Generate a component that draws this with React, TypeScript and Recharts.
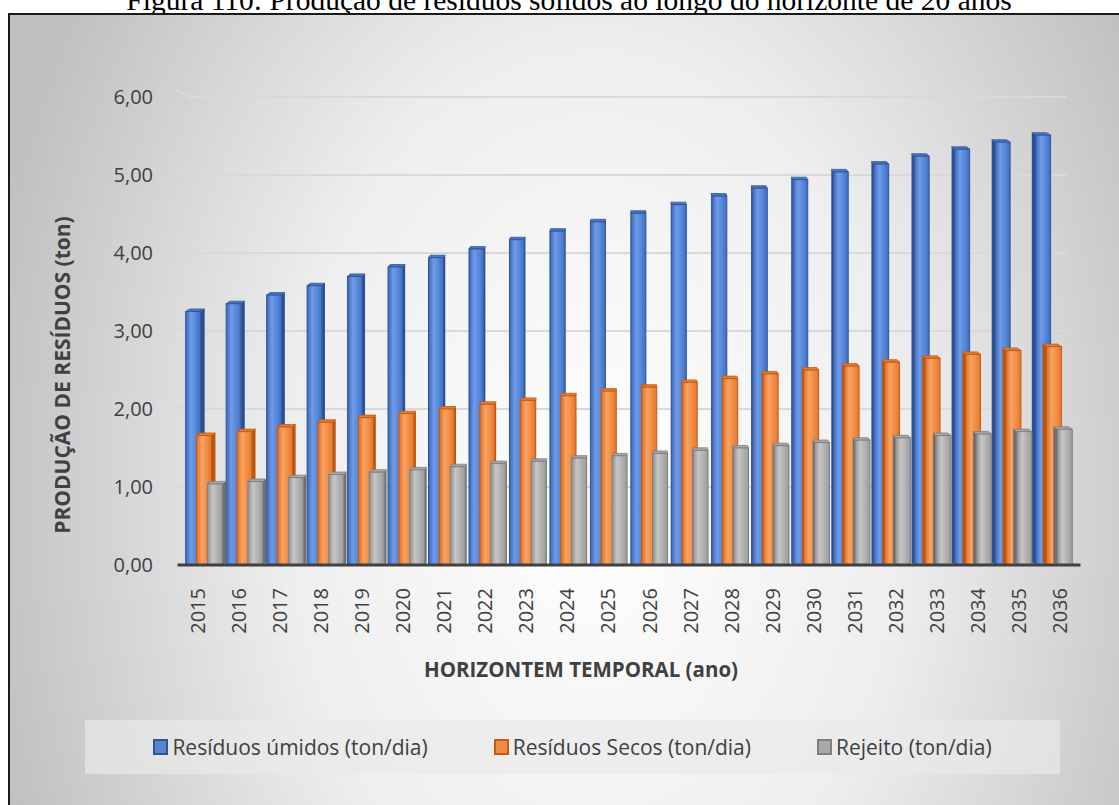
import React from "react";
import {
  BarChart,
  Bar,
  XAxis,
  YAxis,
  CartesianGrid,
  Legend,
} from "recharts";

const years = [
  "2015", "2016", "2017", "2018", "2019", "2020", "2021", "2022", "2023", "2024", "2025",
  "2026", "2027", "2028", "2029", "2030", "2031", "2032", "2033", "2034", "2035", "2036",
];
const residuosUmidos = [
  3.25, 3.35, 3.46, 3.58, 3.7, 3.82, 3.94, 4.05, 4.17, 4.28, 4.4,
  4.51, 4.62, 4.73, 4.83, 4.94, 5.04, 5.14, 5.24, 5.33, 5.42, 5.51,
];
const residuosSecos = [
  1.66, 1.71, 1.77, 1.83, 1.89, 1.94, 2.0, 2.06, 2.11, 2.17, 2.23,
  2.28, 2.34, 2.39, 2.45, 2.5, 2.55, 2.6, 2.65, 2.7, 2.75, 2.8,
];
const rejeito = [
  1.04, 1.07, 1.12, 1.16, 1.19, 1.22, 1.26, 1.3, 1.33, 1.37, 1.4,
  1.43, 1.47, 1.5, 1.53, 1.57, 1.6, 1.63, 1.66, 1.68, 1.71, 1.74,
];
const yTicks = [0, 1, 2, 3, 4, 5, 6];
const seriesOrder = ["umidos", "secos", "rejeito"];

const chartData = years.map((year, i) => ({
  year,
  umidos: residuosUmidos[i],
  secos: residuosSecos[i],
  rejeito: rejeito[i],
}));

const FONT = "'Open Sans', 'Noto Sans', sans-serif";
const TEXT = "#404040";
const CHART_W = 1109;
const CHART_H = 790;
const CENTER_X = 619; // middle of plot, used for the fake perspective

const tones: Record<string, { grad: string; side: string; top: string; stroke: string; swatch: string }> = {
  umidos: { grad: "g-blue", side: "#2c4f8f", top: "#4a78c9", stroke: "#2f5597", swatch: "#5b82cc" },
  secos: { grad: "g-orange", side: "#b85510", top: "#e57d33", stroke: "#c55a11", swatch: "#f08b45" },
  rejeito: { grad: "g-gray", side: "#6f6f6f", top: "#a8a8a8", stroke: "#7f7f7f", swatch: "#a9a9a9" },
};

function Bar3D(props: any) {
  const { x, y, width, height, tone } = props;
  if (!height || height <= 0) return null;
  const t = tones[tone];
  const c = x + width / 2;
  const shift = (CENTER_X - c) * 0.014;
  const d = (CENTER_X - c) * 0.009;
  const u = 2.5;
  const X = x + shift;
  const w = width;
  const sx = d >= 0 ? X + w : X;
  const side = `M${sx},${y} L${sx + d},${y - u} L${sx + d},${y + height - u} L${sx},${y + height} Z`;
  const top = `M${X},${y} L${X + d},${y - u} L${X + w + d},${y - u} L${X + w},${y} Z`;
  return (
    <g>
      <path d={side} fill={t.side} />
      <path d={top} fill={t.top} stroke={t.stroke} strokeWidth={0.8} />
      <rect x={X} y={y} width={w} height={height} fill={`url(#${t.grad})`} stroke={t.stroke} strokeWidth={1} />
    </g>
  );
}

function GridLine(props: any) {
  const { x1, x2, y1, index } = props;
  if (index === 0) return <g key={`gl-${index}`} />;
  const dy = ((550 - y1) / 470) * 7;
  return (
    <path
      key={`gl-${index}`}
      d={`M${x1 - 2.5},${y1 - dy} L${x1 + 12.5},${y1} L${x2 - 14.5},${y1}`}
      fill="none"
      stroke="#d9d9d9"
      strokeWidth={2}
    />
  );
}

function YearTick(props: any) {
  const { x, y, payload } = props;
  return (
    <text
      x={x}
      y={y}
      transform={`rotate(-90, ${x}, ${y})`}
      textAnchor="end"
      dy="0.35em"
      fontSize={20}
      fontFamily={FONT}
      fill={TEXT}
    >
      {payload.value}
    </text>
  );
}

function LegendBox(props: any) {
  const items = [...(props.payload || [])].sort(
    (a: any, b: any) => seriesOrder.indexOf(a.dataKey) - seriesOrder.indexOf(b.dataKey)
  );
  return (
    <div
      style={{
        width: 975,
        height: 54,
        background: "rgba(233,233,233,0.69)",
        display: "flex",
        alignItems: "center",
        justifyContent: "center",
        gap: 66,
        fontFamily: FONT,
        fontSize: 21,
        color: TEXT,
      }}
    >
      {items.map((entry: any) => {
        const t = tones[entry.dataKey];
        return (
          <div key={entry.value} style={{ display: "flex", alignItems: "center", whiteSpace: "nowrap" }}>
            <span
              style={{
                display: "inline-block",
                width: 11,
                height: 12,
                background: t.swatch,
                border: `2px solid ${t.stroke}`,
                marginRight: 4,
              }}
            />
            {entry.value}
          </div>
        );
      })}
    </div>
  );
}

export default function App() {
  return (
    <div
      style={{
        position: "absolute",
        left: 0,
        top: 0,
        width: 1119,
        height: 805,
        overflow: "hidden",
        background: "#fff",
      }}
    >
      <svg width={1119} height={20} style={{ position: "absolute", left: 0, top: 0 }}>
        <text
          x={569}
          y={10}
          textAnchor="middle"
          fontSize={29.5}
          fontFamily="'Liberation Serif', 'Times New Roman', serif"
          fill="#000"
        >
          Figura 110: Produção de resíduos sólidos ao longo do horizonte de 20 anos
        </text>
      </svg>
      <div
        style={{
          position: "absolute",
          left: 8,
          top: 13,
          width: 1125,
          height: 800,
          borderLeft: "2px solid #1a1a1a",
          borderTop: "2px solid #1a1a1a",
          background:
            "radial-gradient(ellipse 620px 900px at 52% 60%, #ffffff 0%, #eeeeee 50%, #c0c0c0 100%)",
        }}
      >
        <BarChart
          width={CHART_W}
          height={CHART_H}
          data={chartData}
          margin={{ top: 82, right: 38.5, bottom: 180, left: 67.5 }}
          barSize={15}
          barGap={-4}
        >
          <defs>
            <linearGradient id="g-blue" x1="0" y1="0" x2="1" y2="0">
              <stop offset="0" stopColor="#3b66b8" />
              <stop offset="0.35" stopColor="#6f9be8" />
              <stop offset="0.7" stopColor="#5686d9" />
              <stop offset="1" stopColor="#3f6cbf" />
            </linearGradient>
            <linearGradient id="g-orange" x1="0" y1="0" x2="1" y2="0">
              <stop offset="0" stopColor="#dc6c22" />
              <stop offset="0.35" stopColor="#f8a363" />
              <stop offset="0.7" stopColor="#f28c42" />
              <stop offset="1" stopColor="#e2772d" />
            </linearGradient>
            <linearGradient id="g-gray" x1="0" y1="0" x2="1" y2="0">
              <stop offset="0" stopColor="#909090" />
              <stop offset="0.35" stopColor="#c6c6c6" />
              <stop offset="0.7" stopColor="#afafaf" />
              <stop offset="1" stopColor="#9b9b9b" />
            </linearGradient>
          </defs>
          <CartesianGrid vertical={false} horizontal={(p: any) => <GridLine {...p} />} />
          <XAxis
            dataKey="year"
            interval={0}
            height={60}
            tickLine={false}
            axisLine={{ stroke: "#404040", strokeWidth: 3 }}
            tick={<YearTick />}
            tickMargin={17}
            label={{
              value: "HORIZONTEM TEMPORAL (ano)",
              content: ({ viewBox }: any) => (
                <text
                  x={571}
                  y={viewBox.y + 112}
                  textAnchor="middle"
                  fontSize={20.5}
                  fontWeight="bold"
                  fontFamily={FONT}
                  fill={TEXT}
                >
                  HORIZONTEM TEMPORAL (ano)
                </text>
              ),
            }}
          />
          <YAxis
            width={100}
            domain={[0, 6]}
            ticks={yTicks}
            interval={0}
            axisLine={false}
            tickLine={false}
            tickSize={0}
            tickMargin={24.5}
            tick={{ fontSize: 20, fontFamily: FONT, fill: TEXT }}
            tickFormatter={(v: number) => v.toFixed(2).replace(".", ",")}
            label={{
              value: "PRODUÇÃO DE RESÍDUOS (ton)",
              content: ({ viewBox }: any) => {
                const cx = viewBox.x - 14.5;
                const cy = viewBox.y + viewBox.height / 2 + 44;
                return (
                  <text
                    x={cx}
                    y={cy}
                    transform={`rotate(-90, ${cx}, ${cy})`}
                    textAnchor="middle"
                    dy="0.35em"
                    fontSize={21}
                    fontWeight="bold"
                    fontFamily={FONT}
                    fill={TEXT}
                  >
                    PRODUÇÃO DE RESÍDUOS (ton)
                  </text>
                );
              },
            }}
          />
          <Legend
            layout="horizontal"
            verticalAlign="middle"
            align="center"
            wrapperStyle={{ top: 705, left: 75, width: 975, height: 54 }}
            content={<LegendBox />}
          />
          <Bar
            dataKey="umidos"
            name="Resíduos úmidos (ton/dia)"
            fill="#4472c4"
            isAnimationActive={false}
            shape={(p: any) => <Bar3D {...p} tone="umidos" />}
          />
          <Bar
            dataKey="secos"
            name="Resíduos Secos (ton/dia)"
            fill="#ed7d31"
            isAnimationActive={false}
            shape={(p: any) => <Bar3D {...p} tone="secos" />}
          />
          <Bar
            dataKey="rejeito"
            name="Rejeito (ton/dia)"
            fill="#a5a5a5"
            isAnimationActive={false}
            shape={(p: any) => <Bar3D {...p} tone="rejeito" />}
          />
        </BarChart>
      </div>
    </div>
  );
}
